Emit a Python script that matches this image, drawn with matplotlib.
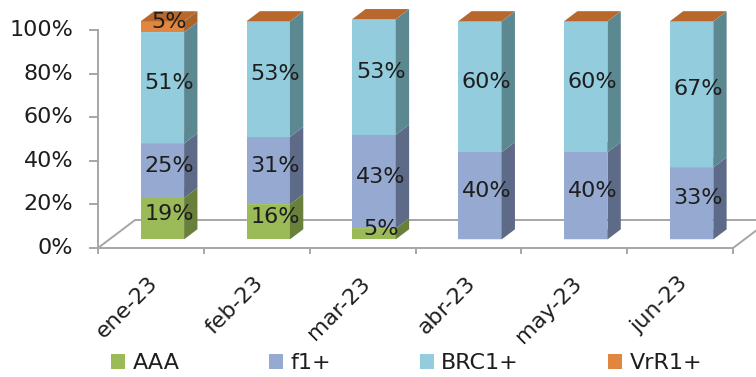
import matplotlib
matplotlib.use("Agg")
import matplotlib.pyplot as plt
from matplotlib.patches import Polygon, Patch

months = ["ene-23", "feb-23", "mar-23", "abr-23", "may-23", "jun-23"]
series_names = ["AAA", "f1+", "BRC1+", "VrR1+"]
aaa = [19, 16, 5, 0, 0, 0]
f1 = [25, 31, 43, 40, 40, 33]
brc1 = [51, 53, 53, 60, 60, 67]
vrr1 = [5, 0, 0, 0, 0, 0]
yticks = [0, 20, 40, 60, 80, 100]

front_colors = ["#9BBB59", "#95A9D1", "#93CDDD", "#E0863E"]
side_colors = ["#68803A", "#5E6B88", "#5C8892", "#A9642C"]
top_colors = ["#B3CF7A", "#AFBFE0", "#B0DCE8", "#B8682C"]

plt.rcParams["font.family"] = ["DejaVu Sans"]
FS = 16
GRAY = "#A6A6A6"
TXT = "#1E1E1E"

fig = plt.figure(figsize=(7.56, 3.77), dpi=100)
ax = fig.add_axes([0, 0, 1, 1])
ax.set_xlim(-1.426, 5.717)
ax.set_ylim(-59.17, 113.76)
ax.axis("off")

# oblique projection of the floor depth, and where the bars sit inside it
DX, DY = 0.35, 12.84
FRONT = 0.31
DEPTH = 0.36
BAR_W = 0.41
bdx, bdy = DEPTH * DX, DEPTH * DY
base = FRONT * DY

n = len(months)
left, right = -0.5, n - 0.5

# floor
floor = [(left, 0), (right, 0), (right + DX, DY), (left + DX, DY), (left, 0)]
ax.plot([p[0] for p in floor], [p[1] for p in floor], color=GRAY, lw=1.4,
        solid_joinstyle="miter", zorder=1)
# value axis
ax.plot([left, left], [0, 100], color=GRAY, lw=1.4, zorder=1)
for t in yticks:
    ax.plot([left - 0.075, left], [t, t], color=GRAY, lw=1.4, zorder=1)
    ax.text(left - 0.235, t, f"{t}%", ha="right", va="center", fontsize=FS,
            color=TXT)
# category ticks
for k in range(n + 1):
    ax.plot([left + k, left + k], [0, -2.4], color=GRAY, lw=1.4, zorder=1)
for i, m in enumerate(months):
    ax.text(i - 0.03, -11.5, m, rotation=45, ha="right", va="top",
            rotation_mode="anchor", fontsize=FS, color=TXT)

# stacked 3d bars
stacks = [aaa, f1, brc1, vrr1]
for i in range(n):
    x0 = i + FRONT * DX - BAR_W / 2
    x1 = x0 + BAR_W
    bottom = 0
    for s, vals in enumerate(stacks):
        v = vals[i]
        yb = base + bottom
        yt = yb + v
        ax.add_patch(Polygon([(x0, yb), (x1, yb), (x1, yt), (x0, yt)],
                             closed=True, fc=front_colors[s], ec="none", zorder=3))
        ax.add_patch(Polygon([(x1, yb), (x1 + bdx, yb + bdy), (x1 + bdx, yt + bdy), (x1, yt)],
                             closed=True, fc=side_colors[s], ec="none", zorder=3))
        ax.add_patch(Polygon([(x0, yt), (x1, yt), (x1 + bdx, yt + bdy), (x0 + bdx, yt + bdy)],
                             closed=True, fc=top_colors[s], ec="none", zorder=3))
        if v > 0:
            cx = (x0 + x1) / 2 + bdx / 2
            cy = yb + v / 2 + bdy / 2
            ax.text(cx, cy, f"{v}%", ha="center", va="center", fontsize=FS,
                    color=TXT, zorder=5)
        bottom += v

handles = [Patch(fc=c, ec="none") for c in front_colors]
fig.legend(handles, series_names, loc="center", bbox_to_anchor=(0.538, 0.036),
           ncol=4, frameon=False, fontsize=FS, handlelength=0.62, handleheight=0.62,
           handletextpad=0.35, columnspacing=4.0, labelcolor=TXT)

fig.savefig("out.png", dpi=100)
